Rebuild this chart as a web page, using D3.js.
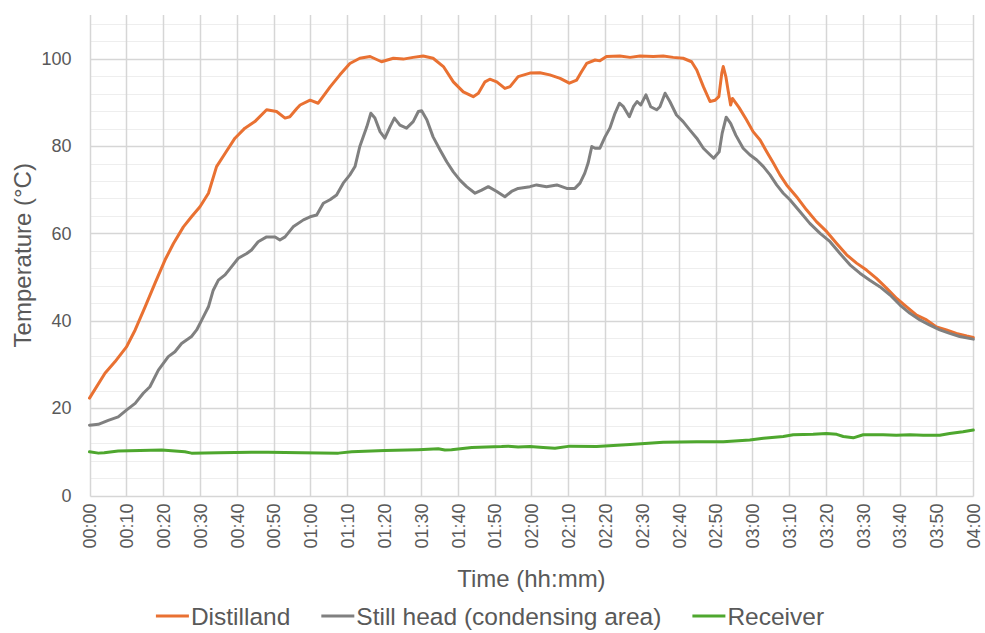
<!DOCTYPE html>
<html>
<head>
<meta charset="utf-8">
<script src="https://cdn.jsdelivr.net/npm/d3@7"></script>
<style>
  html, body { margin: 0; padding: 0; background: #fff; }
  svg { display: block; font-family: "Liberation Sans", Arial, sans-serif; }
</style>
</head>
<body>
<svg id="chart" width="985" height="633"></svg>
<script>
// Elapsed time in minutes and temperature in °C for each sensor
const distillandMin = [0, 4.2, 6.9, 10.1, 12.4, 15.1, 17.8, 20.5, 22.8, 25.5, 27.7, 30, 32.3, 34.5, 36.8, 39.5, 42.2, 44.9, 48.1, 50.8, 53.1, 54.4, 56.3, 57.2, 59.9, 62.1, 65.4, 68, 70.7, 73.4, 76.2, 79.3, 82.5, 85.2, 87.9, 90.6, 93.3, 96.1, 98.8, 101.5, 104.2, 105.6, 107.4, 108.7, 110.6, 112.8, 114.2, 116.4, 119.6, 122.3, 125, 127.8, 130.3, 132.3, 133.6, 135, 137.3, 138.6, 140.4, 144, 146.8, 149.5, 153.1, 155.8, 158.5, 161.2, 163.5, 164.9, 166.7, 168.5, 169.9, 170.9, 171.7, 172.1, 172.8, 173.4, 174.1, 174.6, 176.4, 178.4, 180.2, 182.1, 183.9, 185.7, 187.5, 189.3, 192, 194.7, 197.4, 200.2, 202.9, 205.6, 208.3, 211, 213.7, 216.5, 219.2, 221.9, 224.6, 227.3, 230, 232.7, 235.4, 238.2, 240];
const distillandTemp = [22.3, 28.0, 30.6, 34.1, 37.9, 43.2, 48.6, 53.9, 57.7, 61.5, 63.8, 66.1, 69.2, 75.3, 78.3, 81.8, 84.1, 85.6, 88.3, 87.9, 86.4, 86.7, 88.6, 89.4, 90.5, 89.8, 93.6, 96.3, 98.9, 100.1, 100.5, 99.3, 100.1, 99.9, 100.3, 100.6, 100.1, 98.2, 94.7, 92.4, 91.3, 92.1, 94.7, 95.3, 94.7, 93.2, 93.6, 95.9, 96.7, 96.8, 96.3, 95.5, 94.4, 95.1, 97.0, 98.9, 99.7, 99.5, 100.5, 100.6, 100.3, 100.6, 100.5, 100.6, 100.3, 100.1, 99.3, 97.4, 93.6, 90.2, 90.5, 91.3, 96.7, 98.2, 95.9, 92.8, 89.4, 90.9, 88.8, 86.0, 83.3, 81.4, 78.7, 76.1, 73.4, 71.1, 68.4, 65.4, 62.7, 60.4, 57.7, 55.1, 53.2, 51.6, 49.7, 47.4, 45.1, 43.2, 41.3, 40.2, 38.6, 37.9, 37.1, 36.5, 36.2];

const stillHeadMin = [0, 2.4, 5.1, 7.8, 10.1, 12.4, 14.6, 16.4, 18.7, 21.4, 23.2, 25, 27.7, 29.1, 30.5, 32.3, 33.6, 35, 36.8, 38.6, 40.4, 42.7, 44, 45.8, 48.1, 50.4, 51.7, 53.1, 55.3, 58.1, 59.9, 61.7, 63.5, 65.3, 67.1, 68.9, 70.7, 72.1, 73.4, 75.3, 76.4, 77.5, 78.9, 80.2, 81.6, 82.8, 84.3, 86.1, 87.9, 89.3, 90.2, 91.6, 93.3, 95.2, 97, 98.8, 100.6, 102.4, 104.7, 106.5, 108.3, 110.6, 112.8, 114.6, 116.4, 119.6, 121.4, 124.1, 126.9, 129.6, 131.8, 133.2, 134.5, 135.4, 136.4, 137.3, 138.6, 140, 141.3, 142.7, 143.9, 145, 146.6, 147.7, 148.7, 149.7, 151.1, 152.4, 154, 154.9, 156.3, 157.6, 159.4, 161.2, 163, 164.9, 166.7, 168.5, 169.5, 171, 171.8, 172.9, 174.1, 175.5, 177.5, 179.3, 181.2, 183, 184.8, 186.6, 188.4, 190.2, 192.9, 195.6, 198.4, 201.1, 203.8, 206.5, 209.2, 211.9, 214.6, 217.4, 220.1, 222.8, 225.5, 228.2, 230.9, 233.6, 236.3, 240];
const stillHeadTemp = [16.1, 16.3, 17.2, 18.0, 19.6, 21.1, 23.4, 24.9, 28.7, 31.8, 32.9, 34.8, 36.4, 37.9, 40.2, 43.2, 47.0, 49.3, 50.5, 52.4, 54.3, 55.4, 56.2, 58.1, 59.2, 59.2, 58.5, 59.2, 61.5, 63.1, 63.8, 64.2, 66.9, 67.7, 68.8, 71.5, 73.4, 75.3, 79.9, 84.4, 87.5, 86.4, 83.3, 81.8, 84.4, 86.4, 84.8, 84.1, 85.6, 87.9, 88.1, 86.0, 82.1, 79.1, 76.4, 74.1, 72.2, 70.7, 69.2, 69.9, 70.7, 69.6, 68.4, 69.6, 70.3, 70.7, 71.1, 70.7, 71.1, 70.3, 70.3, 71.5, 73.8, 76.1, 79.9, 79.5, 79.5, 82.1, 84.1, 87.5, 89.8, 89.0, 86.7, 89.0, 90.2, 89.4, 91.7, 89.0, 88.3, 89.0, 92.1, 90.2, 87.1, 85.6, 83.7, 81.8, 79.5, 78.0, 77.2, 78.7, 82.9, 86.6, 85.2, 82.5, 79.5, 78.0, 76.8, 75.3, 73.4, 71.1, 69.2, 67.7, 65.0, 62.3, 60.0, 58.1, 55.4, 52.8, 50.9, 49.3, 47.8, 45.9, 43.6, 41.7, 40.2, 39.0, 37.9, 37.1, 36.4, 35.8];

const receiverMin = [0, 2.4, 4, 7.8, 19.6, 25.9, 27.7, 35, 44, 48.5, 57.6, 67.6, 71.2, 80.2, 89.3, 94.7, 96.5, 98.3, 103.8, 111.9, 113.7, 116.4, 119.6, 123.2, 126.4, 130.5, 137.7, 146.8, 155.8, 164.9, 172.1, 179.3, 183, 188.4, 191.1, 196.5, 200.1, 202.9, 204.7, 207.4, 210.1, 215.5, 219.1, 222.8, 226.4, 230.9, 233.6, 237.2, 240];
const receiverTemp = [10.0, 9.7, 9.8, 10.2, 10.4, 10.0, 9.7, 9.8, 9.9, 9.9, 9.8, 9.7, 10.0, 10.3, 10.5, 10.7, 10.4, 10.5, 11.0, 11.2, 11.3, 11.1, 11.2, 11.0, 10.8, 11.3, 11.2, 11.7, 12.2, 12.3, 12.3, 12.7, 13.1, 13.5, 13.9, 14.0, 14.2, 14.0, 13.5, 13.2, 13.9, 13.9, 13.8, 13.9, 13.8, 13.8, 14.2, 14.6, 15.0];

const seriesNames = ["Distilland", "Still head (condensing area)", "Receiver"];
const seriesColors = ["#E97132", "#808080", "#4EA72E"];

const timeTicks = d3.range(0, 241, 10);       // every 10 minutes
const tempTicks = [0, 20, 40, 60, 80, 100];
const tempMinor = d3.range(4, 110, 4).filter(v => v % 20 !== 0);

const svg = d3.select("#chart");
const textColor = "#595959";
const fontFamily = '"Liberation Sans", Arial, sans-serif';

const x = d3.scaleLinear().domain([0, 240]).range([89.5, 973.3]);
const y = d3.scaleLinear().domain([0, 110]).range([495.5, 15]);
const px = v => Math.round(v) + 0.5;   // snap hairlines to the pixel grid

const fmtTime = m => String(Math.floor(m / 60)).padStart(2, "0") + ":" + String(m % 60).padStart(2, "0");

// Grid: light minor lines every 4 °C, major every 20 °C, verticals every 10 min
const grid = svg.append("g");
grid.selectAll("line.minor").data(tempMinor).join("line")
  .attr("class", "minor")
  .attr("x1", px(x(0))).attr("x2", px(x(240)))
  .attr("y1", d => px(y(d))).attr("y2", d => px(y(d)))
  .attr("stroke", "#EEEEEE").attr("stroke-width", 1);
grid.selectAll("line.vert").data(timeTicks).join("line")
  .attr("class", "vert")
  .attr("x1", d => px(x(d))).attr("x2", d => px(x(d)))
  .attr("y1", y(110)).attr("y2", px(y(0)))
  .attr("stroke", "#D6D6D6").attr("stroke-width", 1.5);
grid.selectAll("line.major").data(tempTicks).join("line")
  .attr("class", "major")
  .attr("x1", px(x(0))).attr("x2", px(x(240)))
  .attr("y1", d => px(y(d))).attr("y2", d => px(y(d)))
  .attr("stroke", "#D6D6D6").attr("stroke-width", 1.5);

// Y axis labels
const yAxis = d3.axisLeft(y).tickValues(tempTicks).tickSize(0).tickPadding(0);
svg.append("g")
  .attr("transform", `translate(${x(0) - 18},0)`)
  .call(yAxis)
  .call(g => g.select(".domain").remove())
  .call(g => g.selectAll("text")
    .attr("fill", textColor)
    .attr("font-size", 18)
    .attr("font-family", fontFamily));

// X axis labels, rotated
const xAxis = d3.axisBottom(x).tickValues(timeTicks).tickFormat(fmtTime).tickSize(0).tickPadding(0);
svg.append("g")
  .attr("transform", `translate(0,${y(0)})`)
  .call(xAxis)
  .call(g => g.select(".domain").remove())
  .call(g => g.selectAll("text")
    .attr("fill", textColor)
    .attr("font-size", 18)
    .attr("font-family", fontFamily)
    .attr("text-anchor", "end")
    .attr("transform", "rotate(-90)")
    .attr("x", -8)
    .attr("y", 0)
    .attr("dy", "0.35em"));

// Series lines
const line = d3.line().x(d => x(d[0])).y(d => y(d[1]));
const seriesData = [
  d3.zip(distillandMin, distillandTemp),
  d3.zip(stillHeadMin, stillHeadTemp),
  d3.zip(receiverMin, receiverTemp)
];
svg.append("g").selectAll("path").data(seriesData).join("path")
  .attr("d", line)
  .attr("fill", "none")
  .attr("stroke", (d, i) => seriesColors[i])
  .attr("stroke-width", 3)
  .attr("stroke-linejoin", "round")
  .attr("stroke-linecap", "round");

// Axis titles
svg.append("text")
  .attr("x", (x(0) + x(240)) / 2).attr("y", 587)
  .attr("text-anchor", "middle")
  .attr("fill", textColor).attr("font-size", 24)
  .text("Time (hh:mm)");
svg.append("text")
  .attr("transform", `translate(31,${(y(0) + y(110)) / 2}) rotate(-90)`)
  .attr("text-anchor", "middle")
  .attr("fill", textColor).attr("font-size", 24)
  .text("Temperature (°C)");

// Legend, centred under the chart
const legend = svg.append("g");
const items = legend.selectAll("g").data(seriesNames).join("g");
items.append("line")
  .attr("x1", 0).attr("x2", 33).attr("y1", 0).attr("y2", 0)
  .attr("stroke", (d, i) => seriesColors[i]).attr("stroke-width", 3);
items.append("text")
  .attr("x", 35).attr("dy", "0.35em")
  .attr("fill", textColor).attr("font-size", 24.5)
  .text(d => d);
let offset = 0;
const widths = [];
items.each(function () { widths.push(35 + this.querySelector("text").getComputedTextLength()); });
const gap = 31;
const total = d3.sum(widths) + gap * (widths.length - 1);
items.attr("transform", (d, i) => {
  const t = `translate(${offset},0)`;
  offset += widths[i] + gap;
  return t;
});
legend.attr("transform", `translate(${490 - total / 2},616)`);
</script>
</body>
</html>
